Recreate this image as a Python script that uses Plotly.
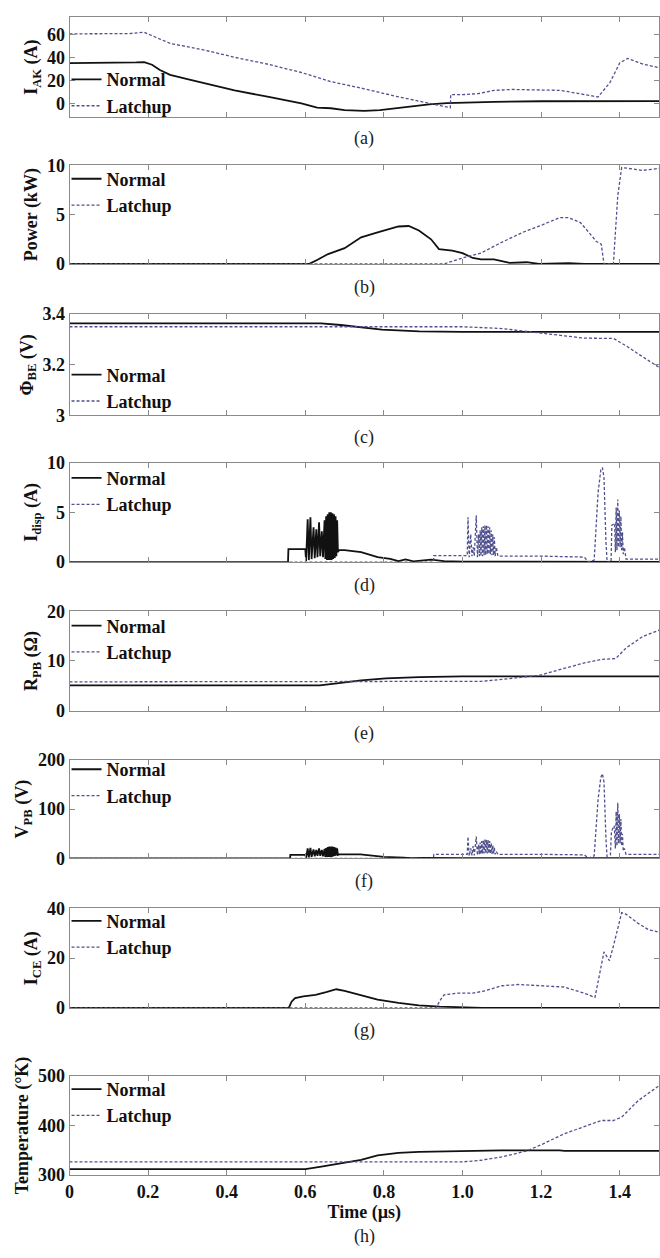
import plotly.graph_objects as go

# ---------------- data (time in µs) ----------------
a_normal = [(0, 35), (0.10, 35), (0.17, 35.5), (0.19, 35.8), (0.21, 33.5), (0.23, 29), (0.256, 24.8), (0.30, 21),
            (0.34, 17.7), (0.42, 11.3), (0.507, 5.6), (0.59, 0), (0.63, -3.7), (0.665, -4.2), (0.70, -5.8),
            (0.75, -6.5), (0.79, -5.8), (0.83, -4.2), (0.87, -2.5), (0.915, -0.8), (0.96, 0.2), (1.0, 0.8),
            (1.08, 1.4), (1.2, 1.9), (1.3, 2.0), (1.4, 2.0), (1.5, 2.0)]
a_latchup = [(0, 60.3), (0.15, 60.5), (0.19, 61.7), (0.22, 57), (0.256, 52), (0.34, 46.5), (0.42, 40),
             (0.507, 33.8), (0.59, 26.8), (0.665, 18.9), (0.75, 12.7), (0.83, 6.2), (0.915, 0), (0.969, -3.7),
             (0.970, 7.6), (1.0, 7.6), (1.04, 8.5), (1.08, 11.3), (1.125, 12.1), (1.165, 12), (1.25, 11.3),
             (1.33, 6.5), (1.345, 5.6), (1.375, 18), (1.40, 35), (1.42, 39), (1.46, 34), (1.5, 31)]

b_normal = [(0, 0), (0.61, 0), (0.63, 0.4), (0.658, 1.0), (0.70, 1.6), (0.742, 2.7), (0.784, 3.2),
            (0.837, 3.8), (0.863, 3.85), (0.889, 3.4), (0.92, 2.5), (0.94, 1.5), (0.974, 1.35), (1.0, 1.1),
            (1.026, 0.6), (1.047, 0.45), (1.08, 0.45), (1.12, 0.1), (1.163, 0.17), (1.195, 0.0), (1.27, 0.07),
            (1.31, 0), (1.5, 0)]
b_latchup = [(0, 0), (0.953, 0), (1.0, 0.6), (1.047, 1.1), (1.1, 2.2), (1.153, 3.2), (1.205, 4.0),
             (1.247, 4.7), (1.27, 4.7), (1.3, 4.2), (1.33, 2.8), (1.34, 2.3), (1.353, 2.0), (1.36, 0),
             (1.384, 0), (1.395, 6.9), (1.405, 9.8), (1.426, 9.7), (1.458, 9.5), (1.5, 9.7)]

c_normal = [(0, 3.363), (0.64, 3.363), (0.69, 3.357), (0.73, 3.35), (0.795, 3.339), (0.89, 3.332),
            (1.0, 3.33), (1.5, 3.33)]
c_latchup = [(0, 3.35), (1.0, 3.35), (1.1, 3.343), (1.185, 3.327), (1.258, 3.313), (1.31, 3.305),
             (1.384, 3.304), (1.416, 3.275), (1.45, 3.24), (1.5, 3.19)]

d_normal = [(0, 0), (0.556, 0), (0.557, 1.3), (0.600, 1.3), (0.602, 0.1), (0.606, 4.3), (0.609, 0.2),
            (0.613, 4.5), (0.616, 0.3), (0.621, 3.5), (0.624, 0.4), (0.628, 3.3), (0.631, 0.5), (0.635, 4.0),
            (0.638, 0.6), (0.642, 3.1), (0.645, 0.5), (0.649, 4.2), (0.651, 0.3), (0.653, 4.6), (0.655, 0.2),
            (0.657, 4.8), (0.659, 0.2), (0.661, 5.0), (0.663, 0.2), (0.665, 5.0), (0.667, 0.2), (0.669, 4.9),
            (0.671, 0.3), (0.673, 4.8), (0.675, 0.4), (0.677, 4.6), (0.679, 0.6), (0.681, 4.2), (0.683, 1.0),
            (0.686, 1.2), (0.70, 1.2), (0.742, 1.0), (0.784, 0.5), (0.816, 0.33), (0.837, 0.1), (0.855, 0.26),
            (0.875, 0.08), (0.90, 0.15), (0.92, 0.25), (0.953, 0.1), (1.0, 0.05), (1.5, 0.03)]
d_latchup = [(0, 0), (0.926, 0), (0.927, 0.65), (1.012, 0.65), (1.014, 4.5), (1.017, 0.5), (1.021, 2.8),
             (1.024, 0.6), (1.027, 1.5), (1.030, 0.6), (1.035, 4.7), (1.038, 0.5), (1.041, 2.8), (1.043, 0.6),
             (1.045, 3.2), (1.047, 0.6), (1.049, 3.5), (1.051, 0.6), (1.053, 3.6), (1.055, 0.7), (1.057, 3.7),
             (1.059, 0.7), (1.061, 3.7), (1.063, 0.8), (1.065, 3.6), (1.067, 0.8), (1.069, 3.5), (1.071, 0.8),
             (1.073, 3.2), (1.075, 0.7), (1.077, 2.8), (1.079, 0.7), (1.081, 2.5), (1.083, 0.6), (1.086, 1.5),
             (1.09, 0.6), (1.2, 0.6), (1.31, 0.5), (1.32, 0.0), (1.335, 0.2), (1.345, 7.0), (1.352, 9.3),
             (1.356, 9.5), (1.360, 8.5), (1.365, 2.0), (1.368, 0), (1.378, 0), (1.380, 3.7), (1.387, 3.9),
             (1.389, 1.0), (1.391, 5.5), (1.393, 1.2), (1.395, 6.3), (1.397, 1.5), (1.399, 5.2), (1.401, 1.5),
             (1.403, 4.6), (1.405, 1.2), (1.407, 3.0), (1.409, 0.8), (1.412, 1.5), (1.416, 0.3), (1.5, 0.3)]

e_normal = [(0, 5.1), (0.637, 5.1), (0.68, 5.5), (0.742, 6.1), (0.805, 6.5), (0.89, 6.75), (1.0, 6.9), (1.5, 6.9)]
e_latchup = [(0, 5.8), (1.0, 5.8), (1.047, 5.9), (1.1, 6.3), (1.163, 6.75), (1.195, 7.1), (1.258, 8.5),
             (1.31, 9.6), (1.353, 10.3), (1.39, 10.5), (1.416, 12.6), (1.458, 14.9), (1.5, 16.2)]

f_normal = [(0, 0), (0.561, 0), (0.562, 7), (0.600, 7), (0.602, 1), (0.606, 20), (0.609, 2), (0.613, 21),
            (0.616, 3), (0.621, 18), (0.624, 4), (0.628, 17), (0.631, 5), (0.635, 20), (0.638, 5), (0.642, 17),
            (0.645, 4), (0.649, 19), (0.651, 3), (0.653, 21), (0.655, 3), (0.657, 23), (0.659, 3), (0.661, 24),
            (0.663, 3), (0.665, 24), (0.667, 3), (0.669, 24), (0.671, 4), (0.673, 23), (0.675, 5), (0.677, 22),
            (0.679, 6), (0.681, 20), (0.683, 7), (0.686, 8), (0.74, 8), (0.80, 3), (0.85, 1.5), (0.87, 0.5),
            (0.9, 1.0), (0.93, 0.3), (1.0, 0.2), (1.5, 0.2)]
f_latchup = [(0, 0), (0.926, 0), (0.927, 8), (1.012, 8), (1.014, 44), (1.017, 5), (1.021, 20), (1.024, 6),
             (1.027, 25), (1.030, 6), (1.035, 44), (1.038, 6), (1.041, 28), (1.043, 8), (1.045, 32), (1.047, 8),
             (1.049, 35), (1.051, 9), (1.053, 37), (1.055, 10), (1.057, 38), (1.059, 10), (1.061, 38),
             (1.063, 10), (1.065, 37), (1.067, 10), (1.069, 35), (1.071, 9), (1.073, 31), (1.075, 9),
             (1.077, 27), (1.079, 9), (1.081, 22), (1.083, 8), (1.086, 14), (1.09, 8), (1.2, 8), (1.31, 7),
             (1.32, 0), (1.335, 5), (1.345, 120), (1.352, 165), (1.356, 172), (1.360, 155), (1.365, 40),
             (1.368, 0), (1.376, 0), (1.379, 55), (1.386, 66), (1.389, 20), (1.391, 95), (1.393, 25),
             (1.395, 113), (1.397, 30), (1.399, 90), (1.401, 30), (1.403, 80), (1.405, 25), (1.407, 50),
             (1.409, 15), (1.412, 20), (1.416, 8), (1.5, 8)]

g_normal = [(0, 0), (0.558, 0), (0.565, 2.5), (0.574, 3.9), (0.595, 4.6), (0.626, 5.2), (0.653, 6.3),
            (0.679, 7.5), (0.70, 6.8), (0.742, 5.0), (0.784, 3.3), (0.837, 2.0), (0.889, 1.05), (0.942, 0.5),
            (1.0, 0.13), (1.05, 0), (1.5, 0)]
g_latchup = [(0, 0), (0.932, 0), (0.945, 3.5), (0.953, 5.2), (0.984, 5.9), (1.026, 5.9), (1.058, 6.9),
             (1.1, 8.9), (1.142, 9.4), (1.205, 8.9), (1.258, 8.4), (1.31, 5.9), (1.337, 4.2), (1.36, 22.5),
             (1.374, 19), (1.384, 24.9), (1.405, 38.3), (1.416, 37.7), (1.447, 34), (1.474, 31.4), (1.5, 30.5)]

h_normal = [(0, 312), (0.6, 312), (0.637, 316.7), (0.679, 323), (0.742, 331), (0.784, 340), (0.837, 344.7),
            (0.889, 346.7), (1.0, 348.7), (1.1, 350), (1.247, 350), (1.26, 348.7), (1.5, 348.7)]
h_latchup = [(0, 326.7), (1.0, 326.7), (1.047, 330), (1.1, 336.7), (1.163, 348.7), (1.205, 363), (1.258, 383),
             (1.31, 398), (1.353, 410), (1.384, 410), (1.405, 416.7), (1.447, 450), (1.5, 480)]

y_titles = ["I<sub>AK</sub> (A)", "Power (kW)", "Φ<sub>BE</sub> (V)", "I<sub>disp</sub> (A)",
            "R<sub>PB</sub> (Ω)", "V<sub>PB</sub> (V)", "I<sub>CE</sub> (A)", "Temperature (°K)"]
y_ranges = [[-12, 75], [0, 10], [3, 3.4], [0, 10], [0, 20], [0, 200], [0, 40], [300, 500]]
y_ticks = [[0, 20, 40, 60], [0, 5, 10], [3, 3.2, 3.4], [0, 5, 10], [0, 10, 20], [0, 100, 200],
           [0, 20, 40], [300, 400, 500]]
y_ticktext = [["0", "20", "40", "60"], ["0", "5", "10"], ["3", "3.2", "3.4"], ["0", "5", "10"],
              ["0", "10", "20"], ["0", "100", "200"], ["0", "20", "40"], ["300", "400", "500"]]
captions = ["(a)", "(b)", "(c)", "(d)", "(e)", "(f)", "(g)", "(h)"]
x_ticks = [0, 0.2, 0.4, 0.6, 0.8, 1.0, 1.2, 1.4]
x_ticktext = ["0", "0.2", "0.4", "0.6", "0.8", "1.0", "1.2", "1.4"]
series_names = ["Normal", "Latchup"]

panel_data = [(a_normal, a_latchup), (b_normal, b_latchup), (c_normal, c_latchup), (d_normal, d_latchup),
              (e_normal, e_latchup), (f_normal, f_latchup), (g_normal, g_latchup), (h_normal, h_latchup)]

# ---------------- layout geometry (pixels) ----------------
W, H = 660, 1258
X0, X1 = 65, 659
panels_px = [(7, 109), (158, 258), (309, 412), (460, 561), (611, 712), (762, 862), (913, 1014), (1083, 1184)]
caption_px = [131, 282, 434, 585, 735, 886, 1037, 1246]
legend_top_px = [52, 153, 352, 457, 607, 753, 907, 1078]

SERIF = "Liberation Serif"
AX_COLOR = "#8a8a8a"
NORMAL_COLOR = "#111111"
LATCH_COLOR = "#50508f"

fig = go.Figure()
layout = dict(width=W, height=H, margin=dict(l=0, r=0, t=0, b=0),
              paper_bgcolor="white", plot_bgcolor="white", showlegend=True,
              font=dict(family=SERIF, size=18, color="#111"))
annotations = []

for i, (normal, latch) in enumerate(panel_data):
    k = "" if i == 0 else str(i + 1)
    leg = "legend" + k
    for data, name, color, dash, width in [(normal, series_names[0], NORMAL_COLOR, "solid", 1.8),
                                           (latch, series_names[1], LATCH_COLOR, "3px,2px", 1.3)]:
        fig.add_trace(go.Scatter(x=[p[0] for p in data], y=[p[1] for p in data], mode="lines",
                                 name=name, line=dict(color=color, width=width, dash=dash),
                                 xaxis="x" + k, yaxis="y" + k, legend=leg))
    top, bot = panels_px[i]
    last = (i == len(panel_data) - 1)
    layout["xaxis" + k] = dict(domain=[X0 / W, X1 / W], range=[0, 1.5], anchor="y" + k,
                               tickvals=x_ticks, ticktext=x_ticktext, showticklabels=last,
                               ticks="inside", ticklen=5, tickcolor=AX_COLOR, showline=True,
                               linecolor=AX_COLOR, linewidth=1, mirror="ticks", showgrid=False,
                               zeroline=False,
                               tickfont=dict(family=SERIF, size=18, weight="bold", color="#111"))
    if last:
        layout["xaxis" + k]["title"] = dict(text="Time (µs)", standoff=3,
                                            font=dict(family=SERIF, size=18, weight="bold", color="#111"))
    layout["yaxis" + k] = dict(domain=[1 - bot / H, 1 - top / H], range=y_ranges[i], anchor="x" + k,
                               tickvals=y_ticks[i], ticktext=y_ticktext[i], ticks="inside", ticklen=5,
                               tickcolor=AX_COLOR, showline=True, linecolor=AX_COLOR, linewidth=1,
                               mirror="ticks", showgrid=False, zeroline=False,
                               tickfont=dict(family=SERIF, size=18, weight="bold", color="#111"),
                               title=dict(text=y_titles[i], standoff=4,
                                          font=dict(family=SERIF, size=18, weight="bold", color="#111")))
    layout[leg] = dict(x=62 / W, y=1 - legend_top_px[i] / H, xanchor="left", yanchor="top",
                       bgcolor="rgba(0,0,0,0)", borderwidth=0, tracegroupgap=0,
                       font=dict(family=SERIF, size=18, weight="bold", color="#111"))
    annotations.append(dict(text=captions[i], xref="paper", yref="paper", x=(X0 + X1) / 2 / W,
                            y=1 - caption_px[i] / H, xanchor="center", yanchor="middle", showarrow=False,
                            font=dict(family=SERIF, size=18, color="#222")))

layout["annotations"] = annotations
fig.update_layout(**layout)
fig.write_html("out.html")
